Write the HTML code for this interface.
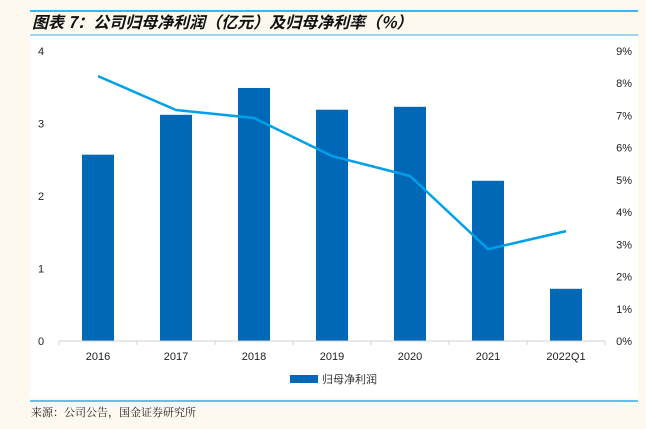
<!DOCTYPE html>
<html><head><meta charset="utf-8"><style>
body{margin:0;background:#fdf9ee;font-family:"Liberation Sans","Noto Sans CJK SC",sans-serif;}
#wrap{position:relative;width:646px;height:429px;overflow:hidden;}
</style></head><body>
<div id="wrap">
<svg id="svg" width="646" height="429" xmlns="http://www.w3.org/2000/svg">
<line x1="30" y1="11" x2="638" y2="11" stroke="#00a0e9" stroke-width="1.5"/>
<text x="32" y="28" font-size="16" font-style="italic" font-weight="bold" font-family="'Noto Sans CJK SC',sans-serif" fill="#111">图表 7：公司归母净利润（亿元）及归母净利率（%）</text>
<line x1="30" y1="35" x2="638" y2="35" stroke="#7fc8ee" stroke-width="1.5"/>
<rect x="30" y="36" width="608" height="362" fill="#fff"/>
<g id="g"></g>
<rect x="290" y="375" width="28" height="8" fill="#0068b7"/>
<text x="322" y="383" font-size="11" fill="#333">归母净利润</text>
<line x1="30" y1="401" x2="638" y2="401" stroke="#00a0e9" stroke-width="1.2"/>
<text x="31" y="416" font-size="11" fill="#222" font-family="'Noto Serif CJK SC','Noto Sans CJK SC',serif">来源：公司公告，国金证券研究所</text>
</svg></div>
<script>
const categories=["2016","2017","2018","2019","2020","2021","2022Q1"];
const profit=[2.57,3.12,3.49,3.19,3.23,2.21,0.72];
const margin=[8.22,7.17,6.92,5.74,5.12,2.85,3.41];
const leftTicks=[0,1,2,3,4];
const rightTicks=[0,1,2,3,4,5,6,7,8,9];
const NS="http://www.w3.org/2000/svg";
const g=document.getElementById('g');
const x0=59,x1=605,yB=341,yT=51;
const step=(x1-x0)/categories.length;
const xc=i=>x0+step*(i+0.5);
const yL=v=>yB-(yB-yT)*v/4;
const yR=v=>yB-(yB-yT)*v/9;
function mk(t,a){const e=document.createElementNS(NS,t);for(const k in a)e.setAttribute(k,a[k]);g.appendChild(e);return e;}
profit.forEach((v,i)=>{
 const r=mk('rect',{x:xc(i)-16,y:yL(v),width:32,height:yB-yL(v),fill:'#0068b7'});
 
 
});
const ax=mk('line',{x1:x0,y1:yB,x2:x1,y2:yB,stroke:'#d0d0d0','stroke-width':1});


for(let i=0;i<=categories.length;i++){
 const t=mk('line',{x1:x0+step*i,y1:yB,x2:x0+step*i,y2:yB+4,stroke:'#d0d0d0'});
 
 
}
categories.forEach((c,i)=>{
 const t=mk('text',{x:xc(i),y:yB+19,'font-size':11,'text-anchor':'middle',fill:'#222'});t.textContent=c;
 
 
});
leftTicks.forEach(v=>{
 const t=mk('text',{x:38,y:yL(v)+4,'font-size':11,fill:'#222'});t.textContent=v;
 
 
});
rightTicks.forEach(v=>{
 const t=mk('text',{x:632,y:yR(v)+4,'font-size':11,'text-anchor':'end',fill:'#222'});t.textContent=v+'%';
 
 
});
const pl=mk('polyline',{points:margin.map((v,i)=>xc(i)+','+yR(v)).join(' '),fill:'none',stroke:'#00a0e9','stroke-width':2.5});


</script>
</body></html>
